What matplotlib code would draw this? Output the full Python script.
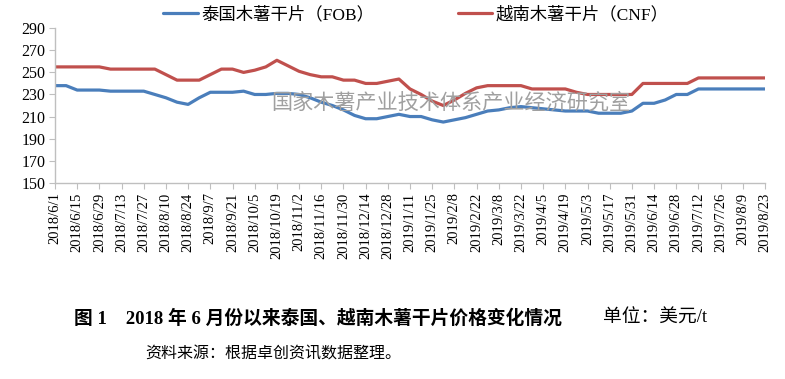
import matplotlib
matplotlib.use("Agg")
import matplotlib.pyplot as plt
import pandas as pd

# weekly prices, 2018/6/1 - 2019/8/23 (USD/t)
dates = pd.date_range("2018-06-01", "2019-08-23", freq="7D")
thai_fob = [238, 238, 234, 234, 234, 233, 233, 233, 233, 230,
            227, 223, 221, 227, 232, 232, 232, 233, 230, 230,
            231, 231, 230, 227, 223, 220, 216, 211, 208, 208,
            210, 212, 210, 210, 207, 205, 207, 209, 212, 215,
            216, 218, 219, 218, 217, 216, 215, 215, 215, 213,
            213, 213, 215, 222, 222, 225, 230, 230, 235, 235,
            235, 235, 235, 235, 235]
viet_cnf = [255, 255, 255, 255, 255, 253, 253, 253, 253, 253,
            248, 243, 243, 243, 248, 253, 253, 250, 252, 255,
            261, 256, 251, 248, 246, 246, 243, 243, 240, 240,
            242, 244, 235, 230, 224, 220, 225, 231, 236, 238,
            238, 238, 238, 235, 235, 235, 235, 232, 230, 230,
            230, 230, 230, 240, 240, 240, 240, 240, 245, 245,
            245, 245, 245, 245, 245]
tick_labels = [f"{d.year}/{d.month}/{d.day}" for d in dates[::2]]
y_ticks = [150, 170, 190, 210, 230, 250, 270, 290]

serif = ["Liberation Serif", "Noto Sans CJK SC"]
cjk = ["Noto Sans CJK SC", "DejaVu Sans"]

fig = plt.figure(figsize=(7.85, 3.79), dpi=100)
ax = fig.add_axes([55 / 785, 1 - 182.7 / 379, 710 / 785, 154.4 / 379])

x = list(range(len(dates)))
ax.plot(x, thai_fob, color="#4A7EBB", lw=2.3, label="泰国木薯干片（FOB）", solid_capstyle="round")
ax.plot(x, viet_cnf, color="#C0504D", lw=2.3, label="越南木薯干片（CNF）", solid_capstyle="round")

ax.set_xlim(0, len(dates) - 1)
ax.set_ylim(150, 290)
ax.set_yticks(y_ticks)
ax.set_yticklabels([str(v) for v in y_ticks], family=serif, fontsize=11.5)
ax.set_xticks(x[::2])
ax.set_xticklabels(tick_labels, rotation=90, family=serif, fontsize=10.5)

for side in ["top", "right"]:
    ax.spines[side].set_visible(False)
for side in ["left", "bottom"]:
    ax.spines[side].set_color("#BFBFBF")
    ax.spines[side].set_linewidth(1)
ax.tick_params(axis="both", direction="out", length=4, color="#BFBFBF", labelcolor="black")
ax.tick_params(axis="y", pad=3)
ax.tick_params(axis="x", pad=3)

# watermark
fig.text(451 / 785, 1 - 103 / 379, "国家木薯产业技术体系产业经济研究室",
         family=cjk, fontsize=15.2, color="#A0A0A0", ha="center", va="center", zorder=10)

fig.legend(loc="center", bbox_to_anchor=(416 / 785, 1 - 15 / 379), ncol=2, frameon=False,
           prop={"family": serif, "size": 12.5}, handlelength=2.0, handletextpad=0.2,
           columnspacing=4.8)

fig.text(74 / 785, 1 - 318 / 379, "图 1    2018 年 6 月份以来泰国、越南木薯干片价格变化情况",
         family=serif, fontsize=13.5, fontweight="bold", ha="left", va="center")
fig.text(603 / 785, 1 - 318 / 379, "单位：美元/t",
         family=serif, fontsize=13.5, ha="left", va="center")
fig.text(145 / 785, 1 - 354 / 379, "资料来源：根据卓创资讯数据整理。",
         family=cjk, fontsize=11.5, ha="left", va="center")

fig.savefig("out.png", dpi=100)
